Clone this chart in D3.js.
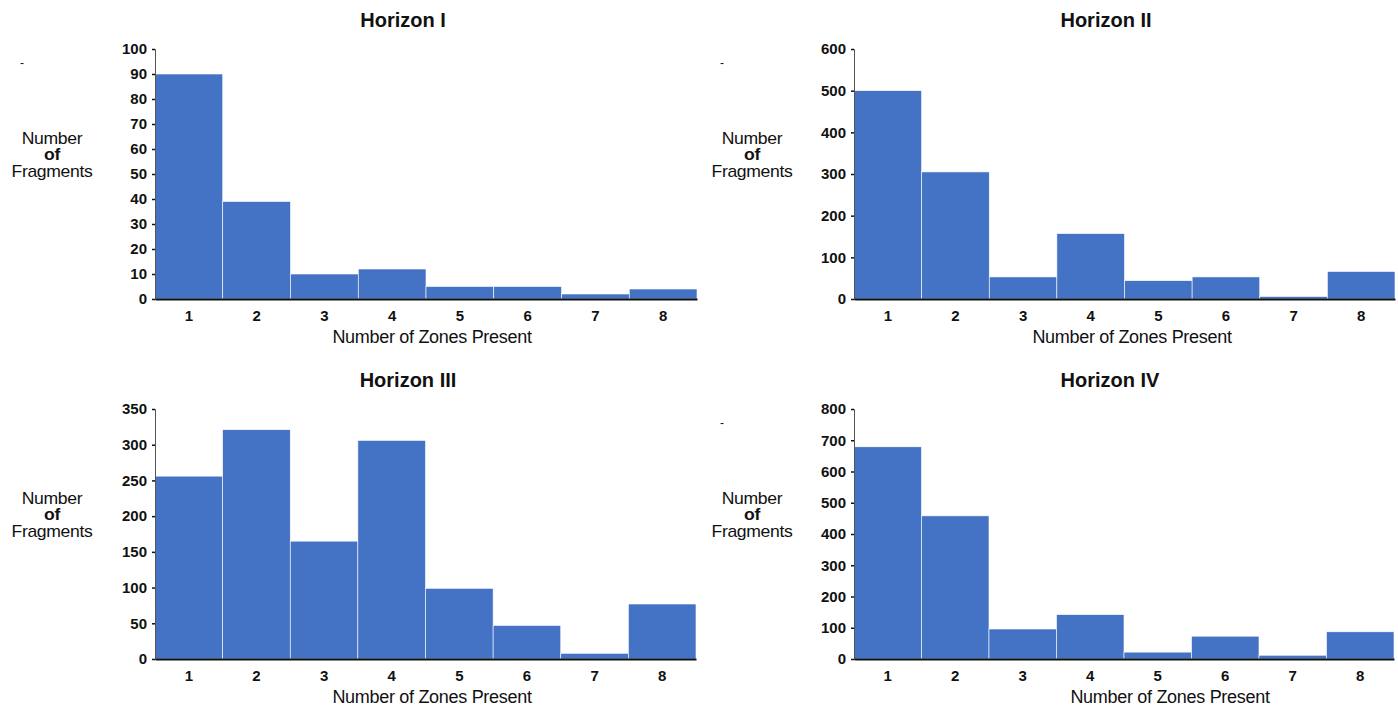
<!DOCTYPE html>
<html>
<head>
<meta charset="utf-8">
<script src="https://cdn.jsdelivr.net/npm/d3@7"></script>
<style>
  html, body { margin: 0; padding: 0; background: #fff; }
  svg { display: block; }
  text { font-family: "Liberation Sans", Arial, sans-serif; fill: #111; }
</style>
</head>
<body>
<svg id="chart" width="1398" height="709"></svg>
<script>
// Zone counts per horizon (fragments by number of zones present)
const zones = [1, 2, 3, 4, 5, 6, 7, 8];
const horizonI   = [90, 39, 10, 12, 5, 5, 2, 4];
const horizonII  = [500, 305, 53, 157, 44, 53, 6, 66];
const horizonIII = [256, 321, 165, 306, 99, 47, 8, 77];
const horizonIV  = [679, 458, 96, 142, 22, 73, 12, 87];

const titles = ["Horizon I", "Horizon II", "Horizon III", "Horizon IV"];
const yMax = [100, 600, 350, 800];
const yStep = [10, 100, 50, 100];
const series = [horizonI, horizonII, horizonIII, horizonIV];

// panel geometry: plot area left/right/top/bottom, plus label offsets
const panels = [
  { x0: 155, x1: 697, yTop: 49,  yBot: 299, ylabX: 52,  titleX: 403,  xTitleX: 432,  dash: true },
  { x0: 854, x1: 1395, yTop: 49, yBot: 299, ylabX: 752, titleX: 1106, xTitleX: 1132, dash: true },
  { x0: 155, x1: 696, yTop: 409, yBot: 659, ylabX: 52,  titleX: 408,  xTitleX: 432,  dash: false },
  { x0: 854, x1: 1394, yTop: 409, yBot: 659, ylabX: 752, titleX: 1110, xTitleX: 1170, dash: true }
];

const svg = d3.select("#chart");
const barColor = "#4472C4";
const font = "'Liberation Sans', Arial, sans-serif";

panels.forEach((p, i) => {
  const g = svg.append("g");
  const x = d3.scaleBand().domain(zones).range([p.x0, p.x1]).padding(0);
  const y = d3.scaleLinear().domain([0, yMax[i]]).range([p.yBot, p.yTop]);

  // bars
  g.selectAll("rect.bar")
    .data(series[i])
    .join("rect")
    .attr("class", "bar")
    .attr("x", (d, j) => x(zones[j]))
    .attr("width", x.bandwidth())
    .attr("y", d => y(d))
    .attr("height", d => y(0) - y(d))
    .attr("fill", barColor)
    .attr("stroke", "#fff")
    .attr("stroke-width", 0.6);

  // y axis
  const ticks = d3.range(0, yMax[i] + 1, yStep[i]);
  const yAxis = g.append("g")
    .attr("transform", `translate(${p.x0},0)`)
    .call(d3.axisLeft(y).tickValues(ticks).tickSize(3).tickPadding(5).tickFormat(d3.format("d")));
  yAxis.select(".domain").attr("stroke", "#555").attr("stroke-width", 1);
  yAxis.selectAll(".tick line").attr("stroke", "#111").attr("stroke-width", 1.5);
  yAxis.selectAll(".tick text")
    .style("font-size", "15px").style("font-weight", "bold")
    .style("font-family", font).attr("fill", "#222");

  // x axis
  const xAxis = g.append("g")
    .attr("transform", `translate(0,${p.yBot})`)
    .call(d3.axisBottom(x).tickSize(0).tickPadding(11));
  xAxis.select(".domain").attr("stroke", "#111").attr("stroke-width", 2);
  xAxis.selectAll(".tick text")
    .style("font-size", "15px").style("font-weight", "bold")
    .style("font-family", font).attr("fill", "#222");

  // title
  g.append("text")
    .attr("x", p.titleX).attr("y", p.yTop - 22)
    .attr("text-anchor", "middle")
    .style("font-size", "20px").style("font-weight", "bold")
    .text(titles[i]);

  // x-axis title
  g.append("text")
    .attr("x", p.xTitleX).attr("y", p.yBot + 44)
    .attr("text-anchor", "middle")
    .style("font-size", "18px").style("letter-spacing", "-0.3px")
    .text("Number of Zones Present");

  // y-axis title (three stacked lines, slightly widened)
  const yl = g.append("g")
    .attr("transform", `translate(${p.ylabX},${p.yTop + 95}) scale(1.1,1)`);
  ["Number", "of", "Fragments"].forEach((t, k) => {
    yl.append("text")
      .attr("x", 0).attr("y", k * 16.5)
      .attr("text-anchor", "middle")
      .style("font-size", "16px").style("letter-spacing", "-0.3px")
      .style("font-weight", k === 1 ? "bold" : "normal")
      .text(t);
  });

  if (p.dash) {
    g.append("text")
      .attr("x", p.ylabX - 30).attr("y", p.yTop + 18)
      .attr("text-anchor", "middle")
      .style("font-size", "12px")
      .text("-");
  }
});
</script>
</body>
</html>
